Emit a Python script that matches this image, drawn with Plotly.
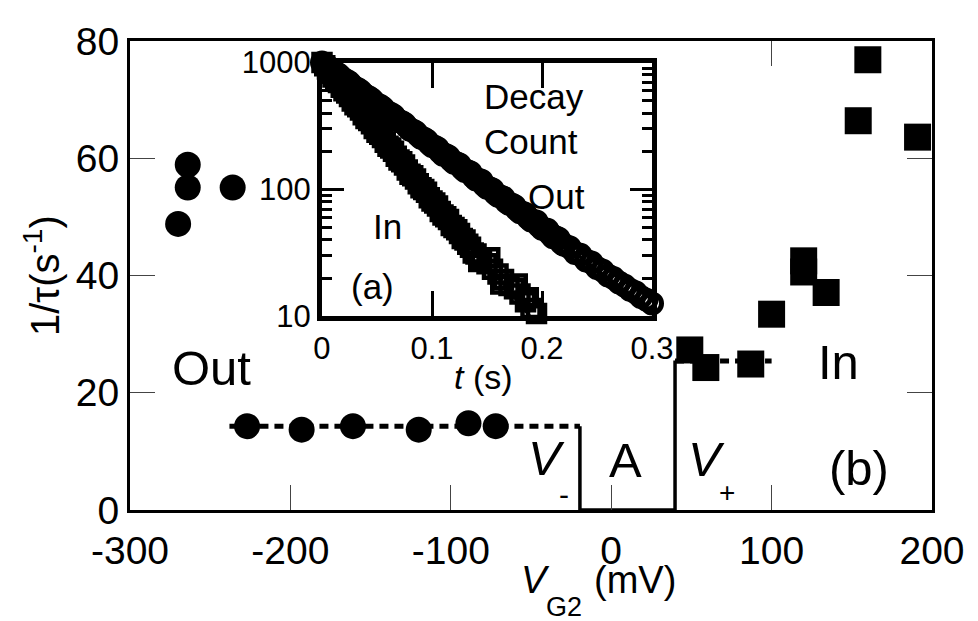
import plotly.graph_objects as go

# ---------------- main panel (b) data ----------------
out_v = [-270, -264, -264, -236, -227, -193, -161, -120, -89, -72]
out_rate = [48.8, 55.0, 58.9, 55.0, 14.3, 13.7, 14.3, 13.7, 14.8, 14.3]
in_v = [49, 59, 87, 100, 120, 120, 134, 154, 160, 191]
in_rate = [27.3, 24.3, 24.9, 33.4, 40.6, 42.5, 37.1, 66.4, 76.8, 63.6]
x_ticks = [-300, -200, -100, 0, 100, 200]
x_ticktext = ["-300", "-200", "-100", "0", "100", "200"]
y_ticks = [0, 20, 40, 60, 80]

# guide lines (dashed levels and the solid step around region A)
out_level_x = [-238, -19.5]
out_level_y = [14.3, 14.3]
step_x = [-19.5, -19.5, 39.8, 39.8]
step_y = [14.3, 0, 0, 25.5]
in_level_x = [39.8, 100]
in_level_y = [25.4, 25.4]

# ---------------- inset (a) decay counts ----------------
t_out = [0, 0.0025, 0.005, 0.0075, 0.01, 0.0125, 0.015, 0.0175, 0.02, 0.0225,
         0.025, 0.0275, 0.03, 0.0325, 0.035, 0.0375, 0.04, 0.0425, 0.045, 0.0475,
         0.05, 0.0525, 0.055, 0.0575, 0.06, 0.0625, 0.065, 0.0675, 0.07, 0.0725,
         0.075, 0.0775, 0.08, 0.0825, 0.085, 0.0875, 0.09, 0.0925, 0.095, 0.0975,
         0.1, 0.1025, 0.105, 0.1075, 0.11, 0.1125, 0.115, 0.1175, 0.12, 0.1225,
         0.125, 0.1275, 0.13, 0.1325, 0.135, 0.1375, 0.14, 0.1425, 0.145, 0.1475,
         0.15, 0.1525, 0.155, 0.1575, 0.16, 0.1625, 0.165, 0.1675, 0.17, 0.1725,
         0.175, 0.1775, 0.18, 0.1825, 0.185, 0.1875, 0.19, 0.1925, 0.195, 0.1975,
         0.2, 0.2025, 0.205, 0.2075, 0.21, 0.2125, 0.215, 0.2175,
         0.22, 0.225, 0.23, 0.235, 0.24, 0.245, 0.25, 0.255, 0.26, 0.265,
         0.27, 0.275, 0.28, 0.285, 0.29, 0.295, 0.3]
count_out = [1000, 960, 935, 890, 855, 832, 805, 765, 735, 718,
             695, 658, 630, 618, 598, 566, 545, 532, 515, 487,
             465, 458, 442, 419, 402, 395, 382, 360, 345, 340,
             330, 310, 296, 292, 284, 267, 255, 252, 244, 230,
             220, 217, 211, 197, 188, 187, 182, 170, 162, 161,
             157, 146, 140, 139, 136, 126, 120, 119, 117, 108,
             103, 102, 100, 93, 89, 88, 86, 80, 77, 76,
             74, 69, 66, 65.5, 64, 59.5, 57, 56.5, 56, 51.5,
             49, 48.5, 48, 44.5, 42, 42, 41, 38,
             36.5, 35, 31.5, 30.5, 27.5, 26.5, 24, 23, 21, 20,
             18.5, 17.5, 16.2, 15.5, 14.2, 13.5, 12.6]

t_in = [0, 0.0025, 0.005, 0.0075, 0.01, 0.0125, 0.015, 0.0175, 0.02, 0.0225,
        0.025, 0.0275, 0.03, 0.0325, 0.035, 0.0375, 0.04, 0.0425, 0.045, 0.0475,
        0.05, 0.0525, 0.055, 0.0575, 0.06, 0.0625, 0.065, 0.0675, 0.07, 0.0725,
        0.075, 0.0775, 0.08, 0.0825, 0.085, 0.0875, 0.09, 0.0925, 0.095, 0.0975,
        0.1, 0.1025, 0.105, 0.1075, 0.11, 0.1125, 0.115, 0.1175, 0.12, 0.1225,
        0.125, 0.1275, 0.13, 0.1325, 0.135, 0.1375, 0.14, 0.1425, 0.145, 0.15,
        0.1525, 0.155, 0.16, 0.1625, 0.165, 0.17, 0.175, 0.1775, 0.18, 0.185,
        0.1875, 0.19, 0.195, 0.2]
count_in = [1000, 945, 890, 825, 770, 738, 695, 640, 600, 575,
            540, 498, 465, 448, 422, 388, 362, 350, 330, 302,
            282, 272, 257, 235, 219, 212, 200, 183, 171, 165,
            156, 142, 132, 128, 121, 111, 103, 100, 95, 86,
            81, 78, 74, 67, 63, 61, 58, 52, 50, 48,
            45, 41, 40, 37, 35, 31.5, 31, 27, 29, 26,
            29, 23.5, 21.5, 18, 19.5, 17.5, 16.5, 18, 15, 13,
            14, 11.5, 10.5, 9.6]

# fitted exponentials (end points)
fit_out_t = [0, 0.3]
fit_out_n = [1000, 11]
fit_in_t = [0, 0.189]
fit_in_n = [1000, 10]
inset_x_ticks = [0, 0.1, 0.2, 0.3]
inset_x_ticktext = ["0", "0.1", "0.2", "0.3"]
inset_y_ticks = [10, 100, 1000]
inset_y_ticktext = ["10", "100", "1000"]
inset_y_minor = [20, 30, 40, 50, 60, 70, 80, 90, 200, 300, 400, 500, 600, 700, 800, 900]

FONT = "Liberation Sans"
BLACK = "black"

fig = go.Figure()

# main panel traces
fig.add_trace(go.Scatter(x=out_level_x, y=out_level_y, mode="lines",
                         line=dict(color=BLACK, width=5, dash="9px,6px"),
                         xaxis="x", yaxis="y", showlegend=False))
fig.add_trace(go.Scatter(x=in_level_x, y=in_level_y, mode="lines",
                         line=dict(color=BLACK, width=5, dash="9px,6px"),
                         xaxis="x", yaxis="y", showlegend=False))
fig.add_trace(go.Scatter(x=step_x, y=step_y, mode="lines",
                         line=dict(color=BLACK, width=3.5),
                         xaxis="x", yaxis="y", showlegend=False))
fig.add_trace(go.Scatter(x=out_v, y=out_rate, mode="markers",
                         marker=dict(symbol="circle", size=26, color=BLACK),
                         cliponaxis=False, xaxis="x", yaxis="y", showlegend=False))
fig.add_trace(go.Scatter(x=in_v, y=in_rate, mode="markers",
                         marker=dict(symbol="square", size=27, color=BLACK),
                         cliponaxis=False, xaxis="x", yaxis="y", showlegend=False))
# carrier for the top tick axis
fig.add_trace(go.Scatter(x=[-300, 200], y=[None, None], mode="lines",
                         xaxis="x3", yaxis="y", showlegend=False))

# inset traces
fig.add_trace(go.Scatter(x=t_out, y=count_out, mode="markers",
                         marker=dict(symbol="circle-open", size=19, color=BLACK,
                                     line=dict(width=5, color=BLACK)),
                         cliponaxis=False, xaxis="x2", yaxis="y2", showlegend=False))
fig.add_trace(go.Scatter(x=t_in, y=count_in, mode="markers",
                         marker=dict(symbol="square-open", size=17, color=BLACK,
                                     line=dict(width=4.5, color=BLACK)),
                         cliponaxis=False, xaxis="x2", yaxis="y2", showlegend=False))
fig.add_trace(go.Scatter(x=fit_out_t, y=fit_out_n, mode="lines",
                         line=dict(color=BLACK, width=3),
                         xaxis="x2", yaxis="y2", showlegend=False))
fig.add_trace(go.Scatter(x=fit_in_t, y=fit_in_n, mode="lines",
                         line=dict(color=BLACK, width=3),
                         xaxis="x2", yaxis="y2", showlegend=False))

main_tick = dict(ticks="inside", ticklen=25, tickwidth=1.2, tickcolor="#444",
                 showline=True, linewidth=3, linecolor=BLACK,
                 showgrid=False, zeroline=False,
                 tickfont=dict(family=FONT, size=39, color=BLACK))

fig.update_layout(
    width=978, height=621,
    margin=dict(l=122, r=54, t=25, b=119),
    paper_bgcolor="white", plot_bgcolor="white",
    font=dict(family=FONT, color=BLACK),
    xaxis=dict(range=[-300, 200], tickvals=x_ticks, ticktext=x_ticktext,
               mirror=True, ticklabelstandoff=4, **main_tick),
    yaxis=dict(range=[0, 80], tickvals=y_ticks,
               mirror="ticks", **main_tick),
    xaxis3=dict(range=[-300, 200], overlaying="x", side="top", anchor="y",
                tickvals=[100], ticks="inside", ticklen=25, tickwidth=1.2,
                tickcolor="#444", showticklabels=False, showline=False,
                showgrid=False, zeroline=False),
    xaxis2=dict(domain=[0.2394, 0.6509], anchor="y2", range=[0, 0.3],
                tickvals=inset_x_ticks, ticktext=inset_x_ticktext,
                ticks="inside", ticklen=25, tickwidth=3, tickcolor=BLACK,
                showline=True, linewidth=5, linecolor=BLACK, mirror="ticks",
                showgrid=False, zeroline=False,
                tickfont=dict(family=FONT, size=31, color=BLACK)),
    yaxis2=dict(domain=[0.413, 0.954], anchor="x2", type="log", range=[1, 3],
                tickvals=inset_y_ticks, ticktext=inset_y_ticktext,
                ticks="inside", ticklen=22, tickwidth=3, tickcolor=BLACK,
                minor=dict(ticks="inside", ticklen=10, tickwidth=3, tickcolor=BLACK,
                           tickvals=inset_y_minor),
                showline=True, linewidth=5, linecolor=BLACK, mirror="ticks",
                showgrid=False, zeroline=False,
                tickfont=dict(family=FONT, size=31, color=BLACK)),
)

big = dict(family=FONT, size=49, color=BLACK)
ann = []
# main panel labels
ann.append(dict(x=-249, y=24.3, xref="x", yref="y", text="Out", showarrow=False, font=big))
ann.append(dict(x=141.5, y=25.2, xref="x", yref="y", text="In", showarrow=False, font=big))
ann.append(dict(x=-40.5, y=8.9, xref="x", yref="y", text="<i>V</i>", showarrow=False, font=big))
ann.append(dict(x=-29.4, y=2.7, xref="x", yref="y", text="-", showarrow=False,
                font=dict(family=FONT, size=30, color=BLACK)))
ann.append(dict(x=9.2, y=8.6, xref="x", yref="y", text="A", showarrow=False, font=big))
ann.append(dict(x=59.1, y=8.7, xref="x", yref="y", text="<i>V</i>", showarrow=False, font=big))
ann.append(dict(x=72.2, y=3.0, xref="x", yref="y", text="+", showarrow=False,
                font=dict(family=FONT, size=28, color=BLACK)))
ann.append(dict(x=154.5, y=7.2, xref="x", yref="y", text="(b)", showarrow=False, font=big))
# axis titles
title_font = dict(family=FONT, size=38, color=BLACK)
ann.append(dict(x=0.505, y=-0.149, xref="paper", yref="paper", text="<i>V</i>",
                showarrow=False, xanchor="center", yanchor="middle", font=title_font))
ann.append(dict(x=0.541, y=-0.2075, xref="paper", yref="paper", text="G2",
                showarrow=False, xanchor="center", yanchor="middle",
                font=dict(family=FONT, size=27, color=BLACK)))
ann.append(dict(x=0.630, y=-0.149, xref="paper", yref="paper", text="(mV)",
                showarrow=False, xanchor="center", yanchor="middle", font=title_font))
ann.append(dict(x=-0.1097, y=0.499, xref="paper", yref="paper",
                text="1/τ(s<sup>-1</sup>)", showarrow=False, textangle=-90,
                xanchor="center", yanchor="middle",
                font=dict(family=FONT, size=40, color=BLACK)))
# inset labels
ins = dict(family=FONT, size=35, color=BLACK)
ann.append(dict(x=0.1455, y=2.729, xref="x2", yref="y2", text="Decay", showarrow=False,
                xanchor="left", yanchor="middle", font=ins))
ann.append(dict(x=0.1455, y=2.380, xref="x2", yref="y2", text="Count", showarrow=False,
                xanchor="left", yanchor="middle", font=ins))
ann.append(dict(x=0.2136, y=1.946, xref="x2", yref="y2", text="Out", showarrow=False, font=ins))
ann.append(dict(x=0.06, y=1.705, xref="x2", yref="y2", text="In", showarrow=False, font=ins))
ann.append(dict(x=0.0455, y=1.233, xref="x2", yref="y2", text="(a)", showarrow=False, font=ins))
ann.append(dict(x=0.441, y=0.283, xref="paper", yref="paper", text="<i>t</i> (s)",
                showarrow=False, xanchor="center", yanchor="middle",
                font=dict(family=FONT, size=34, color=BLACK)))
fig.update_layout(annotations=ann)

fig.write_html("out.html")
